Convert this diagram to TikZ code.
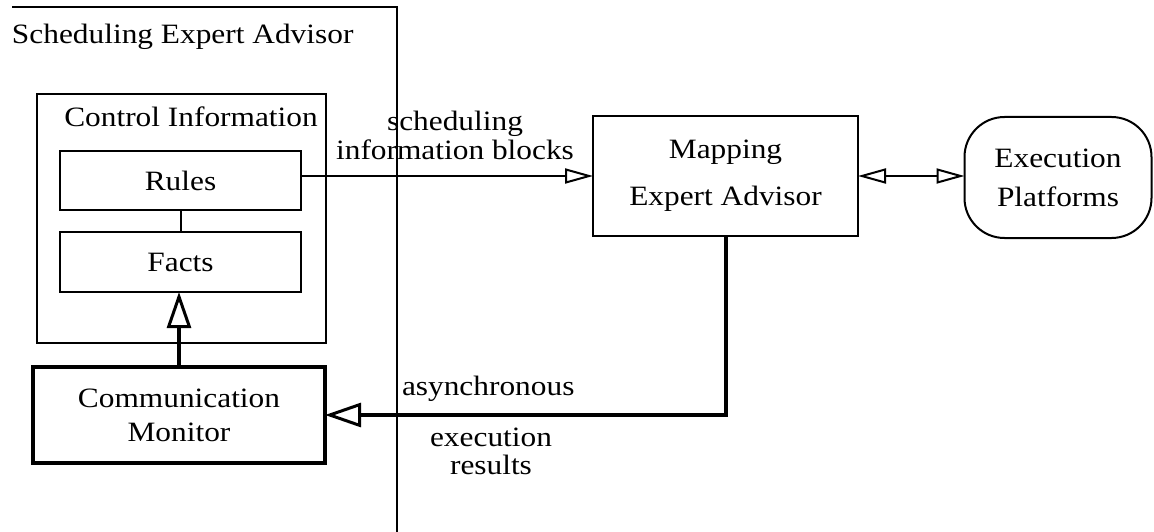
\documentclass[tikz,border=0pt]{standalone}
\usepackage{fontspec}
\setmainfont{Liberation Serif}[FakeStretch=1.12]
\usetikzlibrary{arrows.meta}

\tikzset{
  txt/.style={font=\fontsize{28}{28}\selectfont, inner sep=0pt, outer sep=0pt},
  box/.style={txt, draw, line width=2pt, align=center},
  thickbox/.style={box, line width=4pt},
  roundbox/.style={box, rounded corners=40pt},
  thinarrow/.style={line width=2pt, -{Triangle[open, length=28pt, width=15pt]}},
  biarrow/.style={line width=2pt, {Triangle[open, length=28pt, width=15pt]}-{Triangle[open, length=28pt, width=15pt]}},
  thickarrow/.style={line width=4pt, -{Triangle[open, line width=3pt, length=36pt, width=24pt]}},
  frame/.style={line width=2pt},
  link/.style={line width=2pt},
}

\begin{document}
\begin{tikzpicture}[x=1pt, y=-1pt]
  \useasboundingbox (0,0) rectangle (1154,532);

  % outer advisor frame (top and right edges only)
  \coordinate (frameTL) at (12,7);
  \coordinate (frameTR) at (397,7);
  \coordinate (frameBR) at (397,532);
  \draw[frame] (frameTL) -- (frameTR) -- (frameBR);
  \node[txt, anchor=base west] (sealabel) at (12,44) {Scheduling Expert Advisor};

  % control information block
  \node[box, minimum width=289pt, minimum height=249pt] (ctrl) at (181.5,218.5) {};
  \node[txt, anchor=base] (ctrllabel) at (191,127) {Control Information};
  \node[box, minimum width=241pt, minimum height=59pt] (rules) at (180.5,180.5) {Rules};
  \node[box, minimum width=241pt, minimum height=60pt] (facts) at (180.5,262) {Facts};
  \draw[link] (rules.south) -- (facts.north);

  % communication monitor
  \node[thickbox, minimum width=292pt, minimum height=96pt] (comm) at (179,415)
    {Communication\\[6pt]Monitor};
  \draw[thickarrow] (comm.north) -- (comm.north |- facts.south);

  % mapping advisor and execution platforms
  \node[box, minimum width=265pt, minimum height=120pt] (map) at (725.5,176)
    {Mapping\\[19pt]Expert Advisor};
  \node[roundbox, minimum width=187pt, minimum height=121pt] (exec) at (1058,177.5)
    {Execution\\[11pt]Platforms};

  \draw[thinarrow] (rules.east |- map.west) -- (map.west);
  \draw[biarrow] (map.east) -- (map.east -| exec.west);
  \draw[thickarrow] (map.south) |- (comm.east);

  % connector labels
  \node[txt, align=center] (schedlabel) at (455,135) {scheduling\\[1pt]information blocks};
  \node[txt, anchor=base west] (asynclabel) at (402,395) {asynchronous};
  \node[txt, align=center] (resultlabel) at (491,451) {execution\\[0pt]results};
\end{tikzpicture}
\end{document}
